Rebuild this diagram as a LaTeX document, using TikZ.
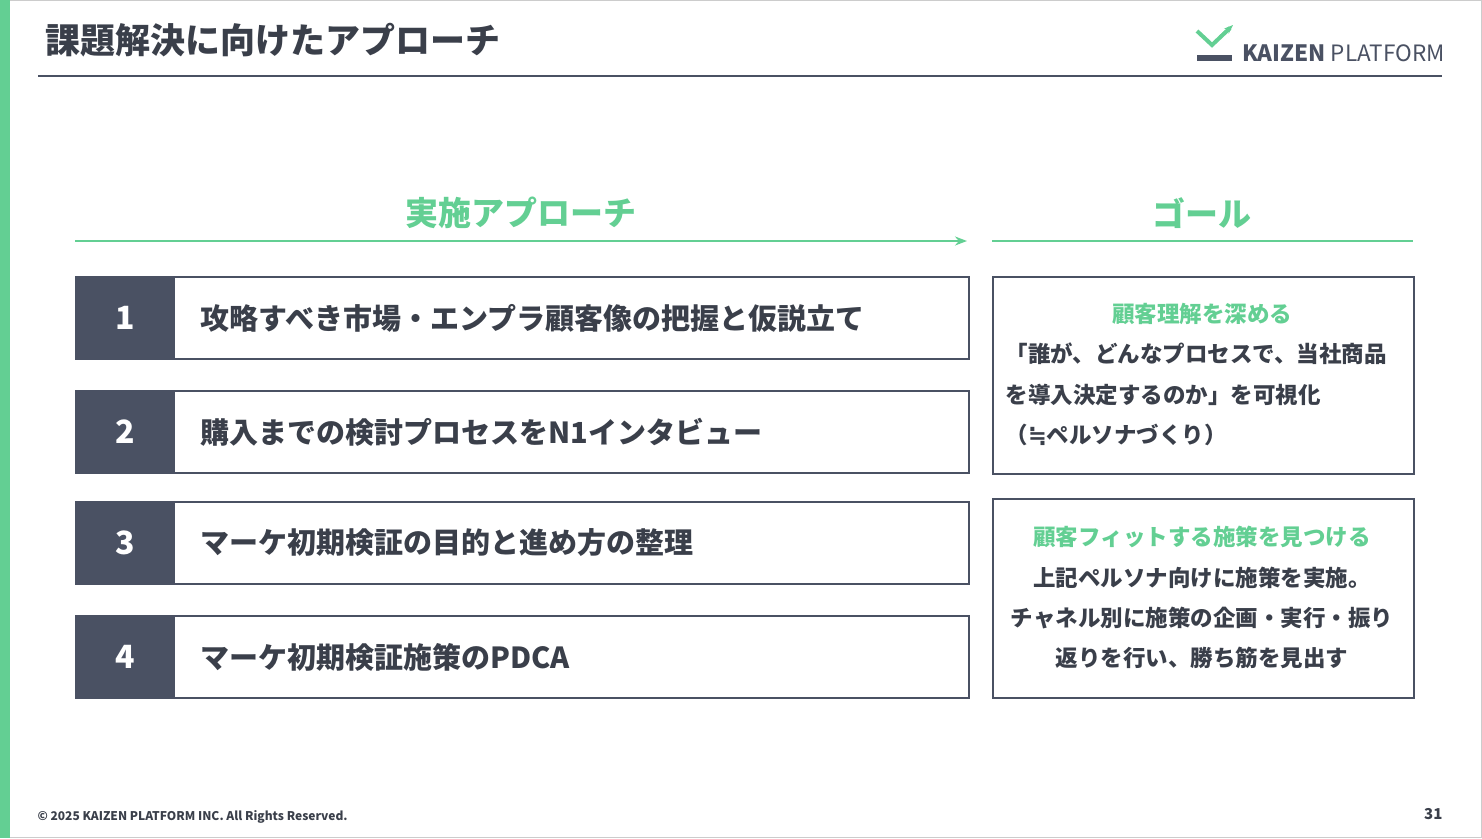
\documentclass[tikz,border=0pt]{standalone}
\usepackage{fontspec}
\setmainfont{Noto Sans CJK JP}
\newfontfamily\symfont{DejaVu Sans}
\usetikzlibrary{positioning,arrows.meta}
\definecolor{kzgreen}{HTML}{63CF93}
\definecolor{kzslate}{HTML}{4A5163}
\definecolor{kztext}{HTML}{3A3F4A}
\begin{document}
\begin{tikzpicture}[x=1pt,y=-1pt,>=Stealth]
            \tikzstyle{numcell}=[fill=kzslate,draw=kzslate,line width=2pt,minimum width=98pt,minimum height=82pt,inner sep=0pt,text=white,font=\bfseries\fontsize{32}{32}\selectfont]
            \tikzstyle{rowbox}=[draw=kzslate,line width=2pt,minimum width=893pt,minimum height=82pt,inner sep=0pt]
            \tikzstyle{rowtext}=[text=kztext,font=\bfseries\fontsize{29}{29}\selectfont]
            \tikzstyle{goalbox}=[draw=kzslate,line width=2pt,minimum width=421pt,inner sep=0pt]
            \tikzstyle{goalhead}=[text=kzgreen,font=\bfseries\fontsize{22.5}{22.5}\selectfont]
            \tikzstyle{goaltext}=[text=kztext,font=\bfseries\fontsize{22.5}{22.5}\selectfont]
            \tikzstyle{heading}=[text=kzgreen,font=\bfseries\fontsize{33}{33}\selectfont]

            % Slide frame
            \useasboundingbox (0,0) rectangle (1482,838);
            \draw[black!20] (0.5,0.5) rectangle (1481.5,837.5);
            \fill[kzgreen] (0,0) rectangle (10,838);

            % Title and logo
            \node[anchor=west,text=kztext,font=\bfseries\fontsize{35}{35}\selectfont] (title) at (42,40) {課題解決に向けたアプローチ};
            \draw[kzslate,line width=1.5pt] (38,76) -- (1442,76);
            \draw[kzgreen,line width=4pt] (1197,31) -- (1212,45) -- (1230,28);
            \draw[kzgreen,line width=3pt,-{Stealth[length=9pt]}] (1220,37) -- (1233,25);
            \fill[kzslate] (1197,55) rectangle (1232,61);
            \node[anchor=west,text=kzslate,inner sep=0pt,font=\fontsize{22.5}{22.5}\selectfont] (logo) at (1242,53) {\textbf{KAIZEN} PLATFORM};

            % Headings
            \node[heading] (approach) at (521,213) {実施アプローチ};
            \node[heading] (goal) at (1202,213) {ゴール};
            \coordinate (A1) at (75,241);
            \coordinate (A2) at (967,241);
            \coordinate (G1) at (992,241);
            \coordinate (G2) at (1413,241);
            \draw[->,kzgreen,line width=2pt] (A1) -- (A2);
            \draw[kzgreen,line width=2pt] (G1) -- (G2);

            % Approach rows
            \node[rowbox,anchor=north west] (row1) at (75,276) {};
            \node[rowbox,anchor=north west] (row2) at (75,390) {};
            \node[rowbox,anchor=north west] (row3) at (75,501) {};
            \node[rowbox,anchor=north west] (row4) at (75,615) {};
            \node[numcell,anchor=west] (n1) at (row1.west) {1};
            \node[numcell,anchor=west] (n2) at (row2.west) {2};
            \node[numcell,anchor=west] (n3) at (row3.west) {3};
            \node[numcell,anchor=west] (n4) at (row4.west) {4};
            \node[rowtext,right=22pt of n1] (t1) {攻略すべき市場・エンプラ顧客像の把握と仮説立て};
            \node[rowtext,right=22pt of n2] (t2) {購入までの検討プロセスをN1インタビュー};
            \node[rowtext,right=22pt of n3] (t3) {マーケ初期検証の目的と進め方の整理};
            \node[rowtext,right=22pt of n4] (t4) {マーケ初期検証施策のPDCA};

            % Goal boxes
            \node[goalbox,anchor=north west,minimum height=197pt] (goal1) at (992,276) {};
            \node[goalbox,anchor=north west,minimum height=199pt] (goal2) at (992,498) {};
            \node[goalhead] (h1) at (1202,314) {顧客理解を深める};
            \node[goaltext,anchor=west] (g1a) at (1002,354) {「誰が、どんなプロセスで、当社商品};
            \node[goaltext,anchor=west] (g1b) at (1002,395) {を導入決定するのか」を可視化};
            \node[goaltext,anchor=west] (g1c) at (1002,435) {（{\symfont ≒}ペルソナづくり）};
            \node[goalhead] (h2) at (1202,537) {顧客フィットする施策を見つける};
            \node[goaltext] (g2a) at (1202,578) {上記ペルソナ向けに施策を実施。};
            \node[goaltext] (g2b) at (1202,618) {チャネル別に施策の企画・実行・振り};
            \node[goaltext] (g2c) at (1202,658) {返りを行い、勝ち筋を見出す};

            % Footer
            \node[anchor=west,text=kztext,font=\bfseries\fontsize{12}{12}\selectfont] (copy) at (34,817) {© 2025 KAIZEN PLATFORM INC. All Rights Reserved.};
            \node[anchor=east,text=kztext,font=\bfseries\fontsize{15}{15}\selectfont] (page) at (1446,814) {31};
\end{tikzpicture}
\end{document}
